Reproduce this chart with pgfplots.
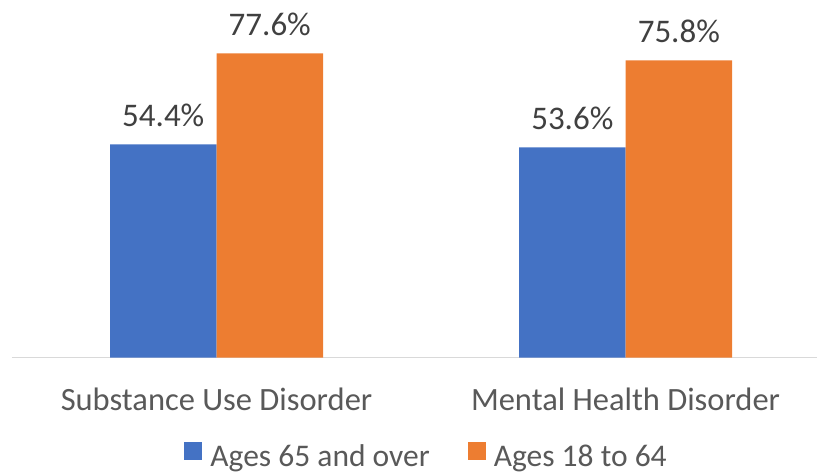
\documentclass[border=0pt]{standalone}
\usepackage{pgfplots}
\pgfplotsset{compat=1.18}
\usepackage{fontspec}
\setmainfont{Carlito}
\definecolor{cblue}{HTML}{4472C4}
\definecolor{corange}{HTML}{ED7D31}
\definecolor{ctick}{HTML}{595959}
\definecolor{clabel}{HTML}{404040}
\definecolor{caxis}{HTML}{D9D9D9}
\begin{document}
\begin{tikzpicture}
\useasboundingbox (-12pt,-117.5pt) rectangle (805pt,357.5pt);
\begin{axis}[
    at={(0,0)}, anchor=south west,
    scale only axis,
    width=805pt, height=357.5pt,
    ybar=0pt,
    bar width=106.5pt,
    xmin=-0.5, xmax=1.468,
    ymin=0, ymax=91.2,
    axis x line*=bottom,
    hide y axis,
    x axis line style={caxis, line width=1.3pt, -},
    xtick={0,1},
    xticklabels={Substance Use Disorder, Mental Health Disorder},
    major tick length=0pt,
    xticklabel style={font=\fontsize{32.5}{38}\selectfont, text=ctick, anchor=base, yshift=-52.5pt},
    /pgf/number format/assume math mode=true,
    nodes near coords={\pgfmathprintnumber[fixed, fixed zerofill, precision=1]{\pgfplotspointmeta}\%},
    nodes near coords style={font=\fontsize{33}{38}\selectfont, text=clabel, anchor=base, yshift=18pt},
    legend columns=2,
    legend style={at={(0.515,-0.276)}, anchor=center, draw=none, fill=none,
        font=\fontsize{31.5}{34}\selectfont, text=ctick,
        /tikz/every odd column/.append style={column sep=6pt},
        /tikz/every even column/.append style={column sep=36pt}},
    legend image code/.code={\fill[#1] (0pt,-4pt) rectangle (18pt,14pt);},
]
\addplot[fill=cblue, draw=none] coordinates {(0,54.4) (1,53.6)};
\addplot[fill=corange, draw=none] coordinates {(0,77.6) (1,75.8)};
\legend{Ages 65 and over, Ages 18 to 64}
\end{axis}
\end{tikzpicture}
\end{document}
